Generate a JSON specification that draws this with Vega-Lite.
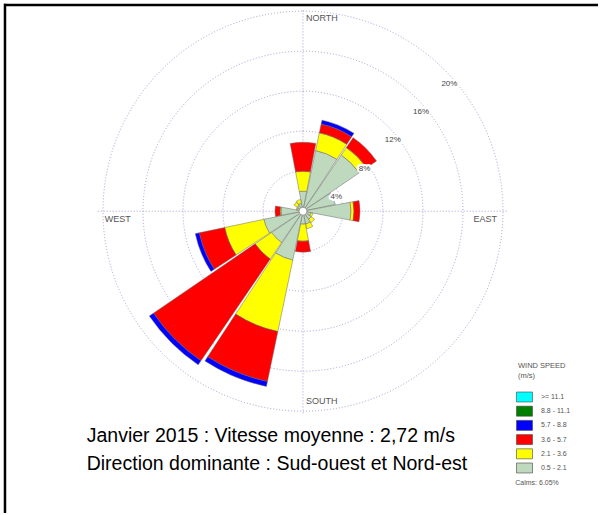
{
  "$schema": "https://vega.github.io/schema/vega-lite/v6.json",
  "width": 600,
  "height": 515,
  "autosize": {"type": "fit", "contains": "padding"},
  "padding": 0,
  "background": "white",
  "config": {
    "view": {"stroke": null},
    "font": "Liberation Sans",
    "legend": {
      "orient": "none",
      "legendX": 518,
      "legendY": 362,
      "titleFontSize": 7.5,
      "titleFontWeight": "normal",
      "titleColor": "#555555",
      "titleLineHeight": 10,
      "titlePadding": 11,
      "labelFontSize": 7,
      "labelColor": "#555555",
      "labelOffset": 10,
      "symbolType": "M-1.333,-0.833H1.333V0.833H-1.333Z",
      "symbolSize": 144,
      "symbolStrokeColor": "#444444",
      "symbolStrokeWidth": 0.6,
      "symbolOpacity": 1,
      "rowPadding": 1.2
    }
  },
  "data": {"values": [{}]},
  "datasets": {
    "rings": [
      {"ring": 4, "label": "4%"},
      {"ring": 8, "label": "8%"},
      {"ring": 12, "label": "12%"},
      {"ring": 16, "label": "16%"},
      {"ring": 20, "label": "20%"}
    ],
    "bars": [
      {"dir": "N", "deg": 0, "k": 1, "cls": "0.5 - 2.1", "pct": 2.0},
      {"dir": "N", "deg": 0, "k": 2, "cls": "2.1 - 3.6", "pct": 2.0},
      {"dir": "N", "deg": 0, "k": 3, "cls": "3.6 - 5.7", "pct": 2.9},
      {"dir": "NNE", "deg": 22.5, "k": 1, "cls": "0.5 - 2.1", "pct": 6.2},
      {"dir": "NNE", "deg": 22.5, "k": 2, "cls": "2.1 - 3.6", "pct": 1.8},
      {"dir": "NNE", "deg": 22.5, "k": 3, "cls": "3.6 - 5.7", "pct": 0.9},
      {"dir": "NNE", "deg": 22.5, "k": 4, "cls": "5.7 - 8.8", "pct": 0.4},
      {"dir": "NE", "deg": 45, "k": 1, "cls": "0.5 - 2.1", "pct": 6.8},
      {"dir": "NE", "deg": 45, "k": 2, "cls": "2.1 - 3.6", "pct": 0.9},
      {"dir": "NE", "deg": 45, "k": 3, "cls": "3.6 - 5.7", "pct": 1.2},
      {"dir": "ENE", "deg": 67.5, "k": 1, "cls": "0.5 - 2.1", "pct": 3.3},
      {"dir": "E", "deg": 90, "k": 1, "cls": "0.5 - 2.1", "pct": 4.8},
      {"dir": "E", "deg": 90, "k": 2, "cls": "2.1 - 3.6", "pct": 0.3},
      {"dir": "E", "deg": 90, "k": 3, "cls": "3.6 - 5.7", "pct": 0.6},
      {"dir": "ESE", "deg": 112.5, "k": 1, "cls": "0.5 - 2.1", "pct": 0.8},
      {"dir": "ESE", "deg": 112.5, "k": 2, "cls": "2.1 - 3.6", "pct": 0.2},
      {"dir": "SE", "deg": 135, "k": 1, "cls": "0.5 - 2.1", "pct": 1.0},
      {"dir": "SE", "deg": 135, "k": 2, "cls": "2.1 - 3.6", "pct": 0.4},
      {"dir": "SSE", "deg": 157.5, "k": 1, "cls": "0.5 - 2.1", "pct": 1.3},
      {"dir": "SSE", "deg": 157.5, "k": 2, "cls": "2.1 - 3.6", "pct": 0.5},
      {"dir": "S", "deg": 180, "k": 1, "cls": "0.5 - 2.1", "pct": 1.3},
      {"dir": "S", "deg": 180, "k": 2, "cls": "2.1 - 3.6", "pct": 1.7},
      {"dir": "S", "deg": 180, "k": 3, "cls": "3.6 - 5.7", "pct": 1.1},
      {"dir": "SSW", "deg": 202.5, "k": 1, "cls": "0.5 - 2.1", "pct": 5.0},
      {"dir": "SSW", "deg": 202.5, "k": 2, "cls": "2.1 - 3.6", "pct": 7.3},
      {"dir": "SSW", "deg": 202.5, "k": 3, "cls": "3.6 - 5.7", "pct": 5.1},
      {"dir": "SSW", "deg": 202.5, "k": 4, "cls": "5.7 - 8.8", "pct": 0.5},
      {"dir": "SW", "deg": 225, "k": 1, "cls": "0.5 - 2.1", "pct": 3.8},
      {"dir": "SW", "deg": 225, "k": 2, "cls": "2.1 - 3.6", "pct": 2.0},
      {"dir": "SW", "deg": 225, "k": 3, "cls": "3.6 - 5.7", "pct": 12.3},
      {"dir": "SW", "deg": 225, "k": 4, "cls": "5.7 - 8.8", "pct": 0.5},
      {"dir": "WSW", "deg": 247.5, "k": 1, "cls": "0.5 - 2.1", "pct": 4.0},
      {"dir": "WSW", "deg": 247.5, "k": 2, "cls": "2.1 - 3.6", "pct": 4.0},
      {"dir": "WSW", "deg": 247.5, "k": 3, "cls": "3.6 - 5.7", "pct": 2.6},
      {"dir": "WSW", "deg": 247.5, "k": 4, "cls": "5.7 - 8.8", "pct": 0.4},
      {"dir": "W", "deg": 270, "k": 1, "cls": "0.5 - 2.1", "pct": 2.2},
      {"dir": "W", "deg": 270, "k": 2, "cls": "2.1 - 3.6", "pct": 0.1},
      {"dir": "W", "deg": 270, "k": 3, "cls": "3.6 - 5.7", "pct": 0.5},
      {"dir": "WNW", "deg": 292.5, "k": 1, "cls": "0.5 - 2.1", "pct": 0.6},
      {"dir": "WNW", "deg": 292.5, "k": 2, "cls": "2.1 - 3.6", "pct": 0.1},
      {"dir": "NW", "deg": 315, "k": 1, "cls": "0.5 - 2.1", "pct": 0.7},
      {"dir": "NW", "deg": 315, "k": 2, "cls": "2.1 - 3.6", "pct": 0.4},
      {"dir": "NNW", "deg": 337.5, "k": 1, "cls": "0.5 - 2.1", "pct": 0.8},
      {"dir": "NNW", "deg": 337.5, "k": 2, "cls": "2.1 - 3.6", "pct": 0.4}
    ]
  },
  "layer": [
    {
      "mark": {"type": "rule", "color": "black", "strokeWidth": 2.5},
      "encoding": {
        "x": {"datum": -30.0, "type": "quantitative", "scale": {"domain": [-30.4, 29.6], "nice": false, "zero": false}, "axis": null},
        "x2": {"datum": 29.6},
        "y": {"datum": 20.7, "type": "quantitative", "scale": {"domain": [-30.3, 21.2], "nice": false, "zero": false}, "axis": null}
      }
    },
    {
      "mark": {"type": "rule", "color": "black", "strokeWidth": 2.5},
      "encoding": {
        "x": {"datum": -29.9, "type": "quantitative", "scale": {"domain": [-30.4, 29.6], "nice": false, "zero": false}, "axis": null},
        "y": {"datum": 20.82, "type": "quantitative", "scale": {"domain": [-30.3, 21.2], "nice": false, "zero": false}, "axis": null},
        "y2": {"datum": -30.3}
      }
    },
    {
      "data": {"name": "rings"},
      "mark": {"type": "arc", "filled": false, "color": "#a0a0d4", "strokeWidth": 1, "strokeDash": [1, 2]},
      "encoding": {
        "x": {"datum": 0, "type": "quantitative", "scale": {"domain": [-30.4, 29.6], "nice": false, "zero": false}, "axis": null},
        "y": {"datum": 0, "type": "quantitative", "scale": {"domain": [-30.3, 21.2], "nice": false, "zero": false}, "axis": null},
        "theta": {"value": 0},
        "theta2": {"value": 6.2832},
        "radius": {"field": "ring", "type": "quantitative", "scale": {"type": "linear", "domain": [0, 20], "range": [0, 200], "zero": true, "nice": false}, "stack": null}
      }
    },
    {
      "mark": {"type": "rule", "color": "#a0a0d4", "strokeWidth": 1, "strokeDash": [1, 2]},
      "encoding": {
        "x": {"datum": -20.6, "type": "quantitative", "scale": {"domain": [-30.4, 29.6], "nice": false, "zero": false}, "axis": null},
        "x2": {"datum": 20.6},
        "y": {"datum": 0, "type": "quantitative", "scale": {"domain": [-30.3, 21.2], "nice": false, "zero": false}, "axis": null}
      }
    },
    {
      "mark": {"type": "rule", "color": "#a0a0d4", "strokeWidth": 1, "strokeDash": [1, 2]},
      "encoding": {
        "x": {"datum": 0, "type": "quantitative", "scale": {"domain": [-30.4, 29.6], "nice": false, "zero": false}, "axis": null},
        "y": {"datum": -20.3, "type": "quantitative", "scale": {"domain": [-30.3, 21.2], "nice": false, "zero": false}, "axis": null},
        "y2": {"datum": 20.2}
      }
    },
    {
      "data": {"name": "bars"},
      "transform": [
        {"stack": "pct", "groupby": ["dir"], "sort": [{"field": "k", "order": "ascending"}], "as": ["r0", "r1"]}
      ],
      "mark": {"type": "arc", "stroke": "#666666", "strokeWidth": 0.5, "thetaOffset": -0.1868, "theta2Offset": 0.1868},
      "encoding": {
        "x": {"datum": 0, "type": "quantitative", "scale": {"domain": [-30.4, 29.6], "nice": false, "zero": false}, "axis": null},
        "y": {"datum": 0, "type": "quantitative", "scale": {"domain": [-30.3, 21.2], "nice": false, "zero": false}, "axis": null},
        "theta": {"field": "deg", "type": "quantitative", "scale": {"type": "linear", "domain": [0, 360], "range": [0, 6.283185307179586], "zero": true, "nice": false}, "stack": null},
        "theta2": {"field": "deg"},
        "radius": {"field": "r1", "type": "quantitative", "scale": {"type": "linear", "domain": [0, 20], "range": [0, 200], "zero": true, "nice": false}, "stack": null},
        "radius2": {"field": "r0"},
        "color": {
          "field": "cls",
          "type": "nominal",
          "scale": {
            "domain": [">= 11.1", "8.8 - 11.1", "5.7 - 8.8", "3.6 - 5.7", "2.1 - 3.6", "0.5 - 2.1"],
            "range": ["#00ffff", "#007f00", "#0000ff", "#ff0000", "#ffff00", "#bfd9bf"]
          },
          "legend": {"title": ["WIND SPEED", "(m/s)"]}
        }
      }
    },
    {
      "mark": {"type": "point", "shape": "circle", "filled": true, "color": "white", "stroke": "#888888", "strokeWidth": 0.8, "size": 64, "opacity": 1},
      "encoding": {
        "x": {"datum": 0, "type": "quantitative", "scale": {"domain": [-30.4, 29.6], "nice": false, "zero": false}, "axis": null},
        "y": {"datum": 0, "type": "quantitative", "scale": {"domain": [-30.3, 21.2], "nice": false, "zero": false}, "axis": null}
      }
    },
    {
      "data": {"name": "rings"},
      "mark": {"type": "text", "fontSize": 8, "color": "white", "stroke": "white", "strokeWidth": 4, "strokeJoin": "round", "dx": 5, "dy": 14},
      "encoding": {
        "x": {"datum": 0, "type": "quantitative", "scale": {"domain": [-30.4, 29.6], "nice": false, "zero": false}, "axis": null},
        "y": {"datum": 0, "type": "quantitative", "scale": {"domain": [-30.3, 21.2], "nice": false, "zero": false}, "axis": null},
        "theta": {"datum": 45, "type": "quantitative", "scale": {"type": "linear", "domain": [0, 360], "range": [0, 6.283185307179586], "zero": true, "nice": false}},
        "radius": {"field": "ring", "type": "quantitative", "scale": {"type": "linear", "domain": [0, 20], "range": [0, 200], "zero": true, "nice": false}, "stack": null},
        "text": {"field": "label"}
      }
    },
    {
      "data": {"name": "rings"},
      "mark": {"type": "text", "fontSize": 8, "color": "#444444", "dx": 5, "dy": 14},
      "encoding": {
        "x": {"datum": 0, "type": "quantitative", "scale": {"domain": [-30.4, 29.6], "nice": false, "zero": false}, "axis": null},
        "y": {"datum": 0, "type": "quantitative", "scale": {"domain": [-30.3, 21.2], "nice": false, "zero": false}, "axis": null},
        "theta": {"datum": 45, "type": "quantitative", "scale": {"type": "linear", "domain": [0, 360], "range": [0, 6.283185307179586], "zero": true, "nice": false}},
        "radius": {"field": "ring", "type": "quantitative", "scale": {"type": "linear", "domain": [0, 20], "range": [0, 200], "zero": true, "nice": false}, "stack": null},
        "text": {"field": "label"}
      }
    },
    {
      "mark": {"type": "text", "text": "NORTH", "align": "left", "baseline": "middle", "fontSize": 9, "color": "#555555"},
      "encoding": {
        "x": {"datum": 0.3, "type": "quantitative", "scale": {"domain": [-30.4, 29.6], "nice": false, "zero": false}, "axis": null},
        "y": {"datum": 19.4, "type": "quantitative", "scale": {"domain": [-30.3, 21.2], "nice": false, "zero": false}, "axis": null}
      }
    },
    {
      "mark": {"type": "text", "text": "SOUTH", "align": "left", "baseline": "middle", "fontSize": 9, "color": "#555555"},
      "encoding": {
        "x": {"datum": 0.3, "type": "quantitative", "scale": {"domain": [-30.4, 29.6], "nice": false, "zero": false}, "axis": null},
        "y": {"datum": -19.1, "type": "quantitative", "scale": {"domain": [-30.3, 21.2], "nice": false, "zero": false}, "axis": null}
      }
    },
    {
      "mark": {"type": "text", "text": "EAST", "align": "left", "baseline": "middle", "fontSize": 9, "color": "#555555"},
      "encoding": {
        "x": {"datum": 17.1, "type": "quantitative", "scale": {"domain": [-30.4, 29.6], "nice": false, "zero": false}, "axis": null},
        "y": {"datum": -0.8, "type": "quantitative", "scale": {"domain": [-30.3, 21.2], "nice": false, "zero": false}, "axis": null}
      }
    },
    {
      "mark": {"type": "text", "text": "WEST", "align": "left", "baseline": "middle", "fontSize": 9, "color": "#555555"},
      "encoding": {
        "x": {"datum": -19.9, "type": "quantitative", "scale": {"domain": [-30.4, 29.6], "nice": false, "zero": false}, "axis": null},
        "y": {"datum": -0.8, "type": "quantitative", "scale": {"domain": [-30.3, 21.2], "nice": false, "zero": false}, "axis": null}
      }
    },
    {
      "mark": {"type": "text", "text": "Janvier 2015 : Vitesse moyenne : 2,72 m/s", "align": "left", "baseline": "alphabetic", "fontSize": 19.5, "color": "black"},
      "encoding": {
        "x": {"datum": -21.7, "type": "quantitative", "scale": {"domain": [-30.4, 29.6], "nice": false, "zero": false}, "axis": null},
        "y": {"datum": -23.2, "type": "quantitative", "scale": {"domain": [-30.3, 21.2], "nice": false, "zero": false}, "axis": null}
      }
    },
    {
      "mark": {"type": "text", "text": "Direction dominante : Sud-ouest et Nord-est", "align": "left", "baseline": "alphabetic", "fontSize": 19.5, "color": "black"},
      "encoding": {
        "x": {"datum": -21.7, "type": "quantitative", "scale": {"domain": [-30.4, 29.6], "nice": false, "zero": false}, "axis": null},
        "y": {"datum": -26.0, "type": "quantitative", "scale": {"domain": [-30.3, 21.2], "nice": false, "zero": false}, "axis": null}
      }
    },
    {
      "mark": {"type": "text", "text": "Calms: 6.05%", "align": "left", "baseline": "middle", "fontSize": 7, "color": "#555555"},
      "encoding": {
        "x": {"datum": 21.3, "type": "quantitative", "scale": {"domain": [-30.4, 29.6], "nice": false, "zero": false}, "axis": null},
        "y": {"datum": -27.3, "type": "quantitative", "scale": {"domain": [-30.3, 21.2], "nice": false, "zero": false}, "axis": null}
      }
    }
  ]
}
